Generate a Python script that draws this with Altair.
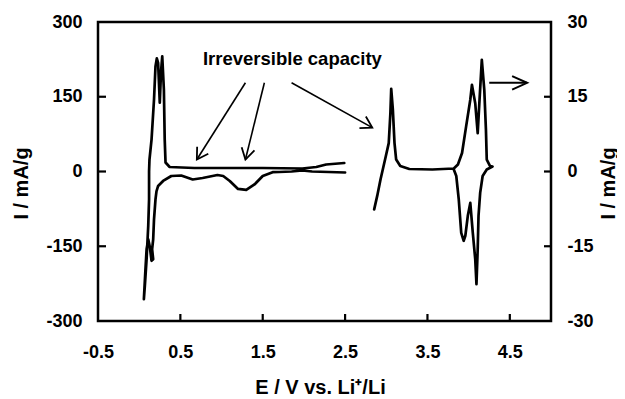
import math
import altair as alt
import pandas as pd

# ---------------- data ----------------
# Anode CV (left axis, mA/g): cathodic sweep from 2.5 V, then anodic sweep back
anode_E = [2.50, 2.30, 2.10, 1.98, 1.85, 1.70, 1.62, 1.50, 1.40, 1.30, 1.20, 1.10,
           1.02, 0.95, 0.86, 0.77, 0.65, 0.58, 0.51, 0.39, 0.29, 0.23, 0.21, 0.198,
           0.18, 0.17, 0.157, 0.17, 0.15, 0.13, 0.11, 0.09, 0.075, 0.057,
           0.069, 0.09, 0.11, 0.12, 0.12, 0.125, 0.15, 0.18, 0.198, 0.214, 0.23,
           0.25, 0.265, 0.28, 0.30, 0.31, 0.32, 0.37, 0.67, 1.00, 1.50, 1.98,
           2.15, 2.27, 2.49]
anode_I = [-2, -1, 0, 2, 0, -1, -1.3, -9, -26, -37, -35, -19,
           -9, -7, -10, -13, -16, -12, -8, -9, -19, -29, -40, -56,
           -96, -136, -156, -176, -179, -152, -136, -156, -200, -256,
           -229, -176, -109, -56, 0, 24, 64, 144, 211, 227, 218,
           138, 200, 231, 164, 64, 18, 9, 7, 7, 7, 6,
           9, 14, 17]

# Cathode CV (right axis, mA/g)
cathode_E = [2.853, 2.89, 2.93, 2.995, 3.03, 3.05, 3.06, 3.08, 3.10, 3.12, 3.17,
             3.28, 3.56, 3.82, 3.87, 3.92, 3.97, 4.02, 4.04, 4.08, 4.11, 4.13,
             4.16, 4.19, 4.21, 4.22, 4.26, 4.29, 4.22, 4.17, 4.14, 4.12, 4.11,
             4.095, 4.08, 4.05, 4.02, 3.99, 3.96, 3.94, 3.91, 3.88, 3.85, 3.82]
cathode_I = [-7.6, -4.9, -1.6, 3.1, 5.7, 11.7, 16.6, 12.4, 5.7, 2.4, 1.1,
             0.5, 0.4, 0.6, 1.4, 3.7, 9.1, 14.4, 17.4, 13.7, 7.7, 13.7,
             22.4, 16.4, 8.4, 2.4, 1.1, 1.0, 0.4, -0.9, -4.3, -8.9, -15.6,
             -22.6, -17.6, -12.2, -6.3, -8.9, -12.9, -13.9, -12.3, -5.6, -0.9, 0.4]

x_ticks = [-0.5, 0.5, 1.5, 2.5, 3.5, 4.5]
left_ticks = [-300, -150, 0, 150, 300]
right_ticks = [-30, -15, 0, 15, 30]

# annotation: label and arrows (left-axis units)
label_text = ["Irreversible capacity"]
label_E = [1.86]
label_I = [214]
arrow_E1 = [1.29, 1.52, 1.85]
arrow_I1 = [178, 178, 178]
arrow_E2 = [0.70, 1.29, 2.83]
arrow_I2 = [24, 24, 88]
axis_arrow_E1 = [4.25]
axis_arrow_E2 = [4.71]
axis_arrow_I = [178]

# ---------------- layout ----------------
W, H = 453, 299
FONT = "Liberation Sans"
X_DOM = [-0.5, 5.0]
YL_DOM = [-300, 300]
YR_DOM = [-30, 30]
px_per_x = W / (X_DOM[1] - X_DOM[0])
px_per_y = H / (YL_DOM[1] - YL_DOM[0])

xs = alt.Scale(domain=X_DOM, nice=False, zero=False)
yls = alt.Scale(domain=YL_DOM, nice=False, zero=False)
yrs = alt.Scale(domain=YR_DOM, nice=False, zero=False)

fix_minus = "replace(datum.label, '\u2212', '-')"

anode = pd.DataFrame({"E": anode_E, "I": anode_I, "k": range(len(anode_E))})
cathode = pd.DataFrame({"E": cathode_E, "I": cathode_I, "k": range(len(cathode_E))})


def ang(e1, i1, e2, i2):
    dx = (e2 - e1) * px_per_x
    dy = -(i2 - i1) * px_per_y
    return math.degrees(math.atan2(dy, dx)) % 360


arrows = pd.DataFrame({"E1": arrow_E1, "I1": arrow_I1, "E2": arrow_E2, "I2": arrow_I2})
arrows["ang"] = [ang(a, b, c, d) for a, b, c, d in zip(arrow_E1, arrow_I1, arrow_E2, arrow_I2)]
axarrow = pd.DataFrame({"E1": axis_arrow_E1, "E2": axis_arrow_E2, "I": axis_arrow_I})
axarrow["ang"] = [0.0]

common = dict(domain=False, ticks=False, tickSize=0, grid=False, labelFont=FONT,
              labelFontSize=18, labelFontWeight="bold", labelColor="black",
              labelFlush=False, labelOverlap=False,
              titleFont=FONT, titleFontSize=20, titleFontWeight="bold",
              titleColor="black", labelExpr=fix_minus)

x_axis = alt.Axis(values=x_ticks, format=".1f", title="E / V vs. Li\u207a/Li",
                  labelPadding=22, titleX=222, titleY=72, titleAlign="center",
                  titleBaseline="alphabetic", **common)

yl_axis = alt.Axis(values=left_ticks, format="d", title="I / mA/g",
                   labelPadding=16, titleAngle=270, titleX=-77, titleY=161,
                   titleAlign="center", titleBaseline="middle", **common)

yr_axis = alt.Axis(values=right_ticks, format="d", orient="right", title="I / mA/g",
                   labelPadding=16, titleAngle=270, titleX=57, titleY=161,
                   titleAlign="center", titleBaseline="middle", **common)


def X(f):
    return alt.X(f, scale=xs, axis=x_axis)


def YL(f):
    return alt.Y(f, scale=yls, axis=yl_axis)


def YR(f):
    return alt.Y(f, scale=yrs, axis=yr_axis)


line_style = dict(color="black", strokeWidth=2.7, strokeJoin="round", strokeCap="round")

anode_line = alt.Chart(anode).mark_line(**line_style).encode(
    x=X("E:Q"), y=YL("I:Q"), order=alt.Order("k:Q"))

xtick_rules = alt.Chart(pd.DataFrame({"v": x_ticks[1:]})).mark_rule(
    color="black", strokeWidth=2.2).encode(
    x=X("v:Q"), y=alt.value(H), y2=alt.value(H - 7))

ltick_rules = alt.Chart(pd.DataFrame({"v": left_ticks[1:-1]})).mark_rule(
    color="black", strokeWidth=2.2).encode(
    y=YL("v:Q"), x=alt.value(0), x2=alt.value(8))

arrow_lines = alt.Chart(arrows).mark_rule(color="black", strokeWidth=1.6).encode(
    x=X("E1:Q"), x2="E2:Q", y=YL("I1:Q"), y2="I2:Q")

arrow_heads = alt.Chart(arrows).mark_point(
    shape="M-1,-0.6L0,0L-1,0.6", filled=False, stroke="black", strokeWidth=1.8,
    size=484, opacity=1).encode(
    x=X("E2:Q"), y=YL("I2:Q"), angle=alt.Angle("ang:Q", scale=None))

ax_arrow_line = alt.Chart(axarrow).mark_rule(color="black", strokeWidth=2).encode(
    x=X("E1:Q"), x2="E2:Q", y=YL("I:Q"))

ax_arrow_head = alt.Chart(axarrow).mark_point(
    shape="M-1,-0.45L0,0L-1,0.45", filled=False, stroke="black", strokeWidth=2,
    size=900, opacity=1).encode(
    x=X("E2:Q"), y=YL("I:Q"), angle=alt.Angle("ang:Q", scale=None))

label = alt.Chart(pd.DataFrame({"E": label_E, "I": label_I, "t": label_text})).mark_text(
    font=FONT, fontSize=18.5, fontWeight="bold", align="center", baseline="alphabetic",
    color="black").encode(x=X("E:Q"), y=YL("I:Q"), text="t:N")

left_group = alt.layer(anode_line, xtick_rules, ltick_rules, arrow_lines, arrow_heads,
                       ax_arrow_line, ax_arrow_head, label)

cathode_line = alt.Chart(cathode).mark_line(**line_style).encode(
    x=X("E:Q"), y=YR("I:Q"), order=alt.Order("k:Q"))

rtick_rules = alt.Chart(pd.DataFrame({"v": right_ticks[1:-1]})).mark_rule(
    color="black", strokeWidth=2.2).encode(
    y=YR("v:Q"), x=alt.value(W - 7), x2=alt.value(W))

right_group = alt.layer(cathode_line, rtick_rules)

chart = alt.layer(left_group, right_group).resolve_scale(y="independent").properties(
    width=W, height=H,
    padding={"left": 90, "top": 14, "right": 66, "bottom": 78},
    autosize=alt.AutoSizeParams(type="none"),
    background="white",
).configure_view(stroke="black", strokeWidth=2.5)

chart.save("out.html", embed_options={"renderer": "svg", "actions": False})
